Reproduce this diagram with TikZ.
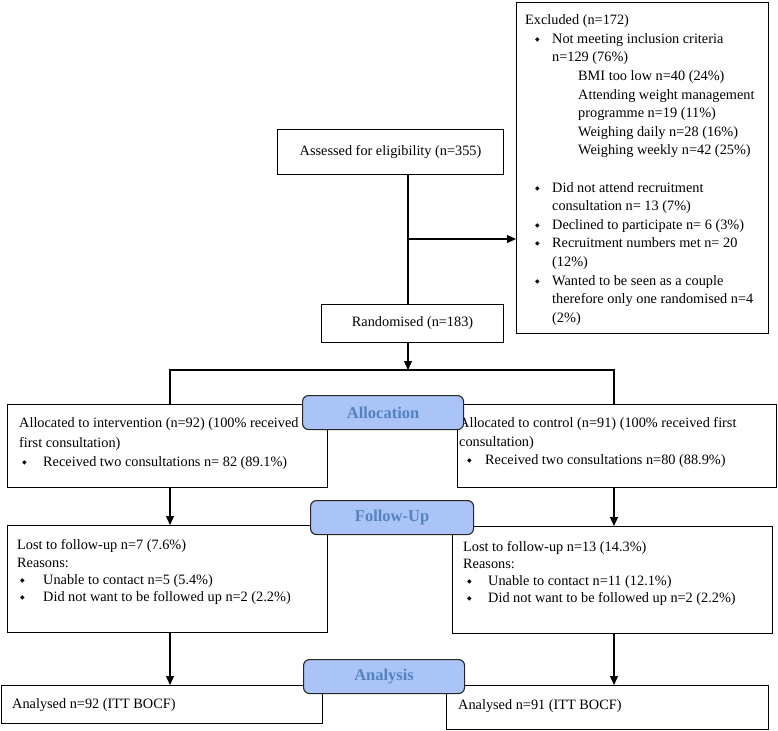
\documentclass[tikz,border=0pt]{standalone}
\usepackage{fontspec}
\setmainfont{Liberation Serif}
\newfontfamily\dejavu{DejaVu Sans}
\usetikzlibrary{arrows.meta}
\definecolor{lblfill}{RGB}{170,196,248}
\definecolor{lbltext}{RGB}{84,130,190}
\newcommand\bulx[2]{\makebox[#2pt][l]{\hspace{#1pt}\raisebox{2pt}{\dejavu\fontsize{6}{6}\selectfont ◆}}}
\newcommand\strt{\rule{0pt}{11pt}}
\tikzset{
  box/.style={draw, line width=1.1pt, inner sep=0pt, anchor=north west, font=\fontsize{14.3}{18}\selectfont},
  txt/.style={anchor=north west, inner sep=0pt, align=left, font=\fontsize{14.3}{#1}\selectfont},
  txt/.default=18.6,
  lbl/.style={draw=black!85, line width=1.1pt, rounded corners=6pt, fill=lblfill, text=lbltext,
    font=\fontsize{16.5}{18}\selectfont\bfseries, inner sep=0pt, anchor=north west},
  arr/.style={-{Triangle[length=9pt,width=8pt]}, line width=1.1pt},
  ln/.style={line width=1.1pt}
}
\begin{document}
\begin{tikzpicture}[x=1pt,y=-1pt]
\useasboundingbox (0,0) rectangle (778,730);
% boxes
\node[box, minimum width=252pt, minimum height=331pt] (excl) at (516,2) {};
\node[txt] (excltxt) at (525,13.5) {\strt Excluded (n=172)\\
\bulx{10}{27}Not meeting inclusion criteria\\
\hspace*{27pt}n=129 (76\%)\\
\hspace*{53pt}BMI too low n=40 (24\%)\\
\hspace*{53pt}Attending weight management\\
\hspace*{53pt}programme n=19 (11\%)\\
\hspace*{53pt}Weighing daily n=28 (16\%)\\
\hspace*{53pt}Weighing weekly n=42 (25\%)\\
\mbox{}\\
\bulx{10}{27}Did not attend recruitment\\
\hspace*{27pt}consultation n= 13 (7\%)\\
\bulx{10}{27}Declined to participate n= 6 (3\%)\\
\bulx{10}{27}Recruitment numbers met n= 20\\
\hspace*{27pt}(12\%)\\
\bulx{10}{27}Wanted to be seen as a couple\\
\hspace*{27pt}therefore only one randomised n=4\\
\hspace*{27pt}(2\%)};

\node[box, minimum width=226pt, minimum height=45pt] (assessed) at (277,129) {Assessed for eligibility (n=355)};
\node[box, minimum width=182pt, minimum height=38pt] (rand) at (321,304) {Randomised (n=183)};

\node[box, minimum width=320pt, minimum height=83pt] (interv) at (7,404) {};
\node[txt=19.3] (intervtxt) at (19,416.5) {\strt Allocated to intervention (n=92) (100\% received\\
first consultation)\\
\bulx{3}{24}Received two consultations n= 82 (89.1\%)};

\node[box, minimum width=319pt, minimum height=83pt] (ctrl) at (457,404) {};
\node[txt=18.6] (ctrltxt) at (459,416.5) {\strt Allocated to control (n=91) (100\% received first\\
consultation)\\
\bulx{8}{26}Received two consultations n=80 (88.9\%)};

\node[box, minimum width=320pt, minimum height=107pt] (fupL) at (7,525) {};
\node[txt=17.4] (fupLtxt) at (17,538.5) {\strt Lost to follow-up n=7 (7.6\%)\\
Reasons:\\
\bulx{3}{26}Unable to contact n=5 (5.4\%)\\
\bulx{3}{26}Did not want to be followed up n=2 (2.2\%)};

\node[box, minimum width=320pt, minimum height=107pt] (fupR) at (452,526) {};
\node[txt=16.8] (fupRtxt) at (463,540.5) {\strt Lost to follow-up n=13 (14.3\%)\\
Reasons:\\
\bulx{4}{25}Unable to contact n=11 (12.1\%)\\
\bulx{4}{25}Did not want to be followed up n=2 (2.2\%)};

\node[box, minimum width=321pt, minimum height=38pt] (anaL) at (1,685) {};
\node[txt] (anaLtxt) at (12,697.5) {\strt Analysed n=92 (ITT BOCF)};
\node[box, minimum width=322pt, minimum height=44pt] (anaR) at (446,685) {};
\node[txt] (anaRtxt) at (458,698.5) {\strt Analysed n=91 (ITT BOCF)};

% column coordinates
\coordinate (cx) at (408,0);
\coordinate (lx) at (170,0);
\coordinate (rx) at (614,0);
\coordinate (br) at (408,239);
\coordinate (split) at (408,370);

% connectors
\draw[ln] (assessed.south -| cx) -- (rand.north -| cx);
\draw[arr] (br) -- (br -| excl.west);
\draw[arr] (rand.south -| cx) -- (split);
\draw[ln] (interv.north -| lx) -- (lx |- split) -- (rx |- split) -- (ctrl.north -| rx);
\draw[arr] (interv.south -| lx) -- (fupL.north -| lx);
\draw[arr] (ctrl.south -| rx) -- (fupR.north -| rx);
\draw[arr] (fupL.south -| lx) -- (anaL.north -| lx);
\draw[arr] (fupR.south -| rx) -- (anaR.north -| rx);

% phase labels
\node[lbl, minimum width=161pt, minimum height=34pt] (alloc) at (302,395) {Allocation};
\node[lbl, minimum width=163pt, minimum height=34pt] (fu) at (310,500) {Follow-Up};
\node[lbl, minimum width=161pt, minimum height=34pt] (ana) at (303,659) {Analysis};
\end{tikzpicture}
\end{document}
